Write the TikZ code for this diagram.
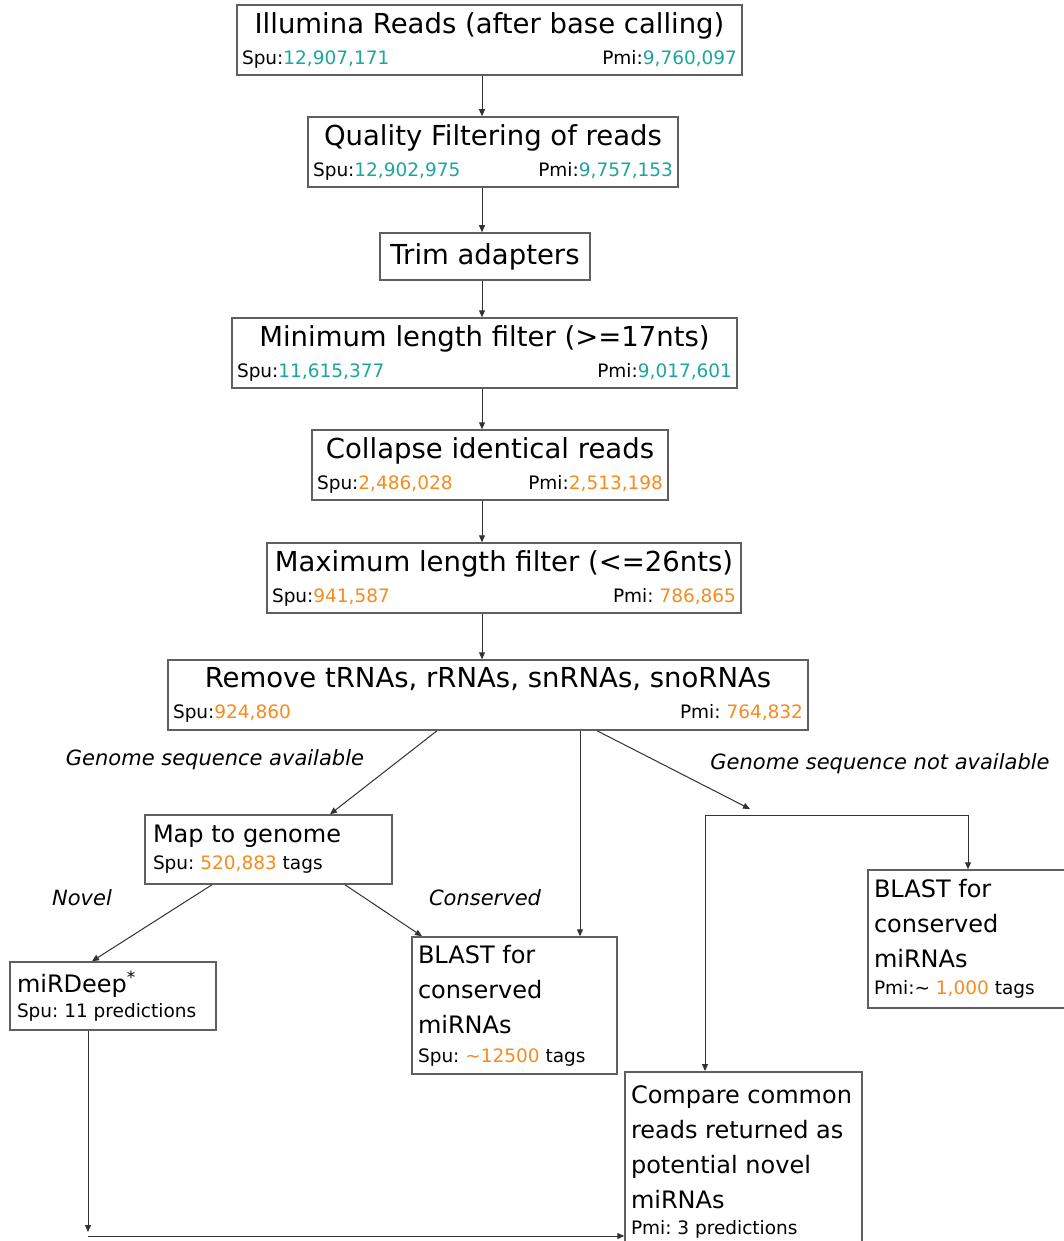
\documentclass[tikz,border=0pt]{standalone}
\usepackage{fontspec}
\setmainfont{DejaVu Sans}
\usetikzlibrary{arrows.meta}
\frenchspacing
\definecolor{tealnum}{RGB}{28,166,156}
\definecolor{orgnum}{RGB}{245,140,30}
\definecolor{boxgray}{RGB}{95,95,95}
\definecolor{arrgray}{RGB}{50,50,50}
\newcommand{\nsp}{\spaceskip=0pt\xspaceskip=0pt\frenchspacing\relax}
\newcommand{\ttlf}{\fontsize{27.5}{33}\selectfont\nsp\centering}
\newcommand{\smlf}{\fontsize{18.5}{31}\selectfont\nsp\centering}
\newcommand{\mdtf}{\fontsize{24}{35}\selectfont\nsp\raggedright}
\newcommand{\smf}[1]{\fontsize{18.5}{#1}\selectfont\nsp\raggedright}
\newcommand{\tnum}[1]{\textcolor{tealnum}{#1}}
\newcommand{\onum}[1]{\textcolor{orgnum}{#1}}
\begin{document}
\begin{tikzpicture}[x=1pt,y=-1pt,
 pbox/.style={draw=boxgray,line width=1.5pt,fill=white,inner xsep=5pt,inner ysep=3pt,align=center},
 lbox/.style={draw=boxgray,line width=1.5pt,fill=white,inner xsep=7pt,inner ysep=3pt,align=left},
 arr/.style={draw=arrgray,line width=1pt,-{Triangle[length=7pt,width=6pt]}},
 lbl/.style={font=\fontsize{21}{24}\selectfont\itshape,inner sep=0pt}]
\fill[white] (0,0) rectangle (1063,1241);
\useasboundingbox (0,0) rectangle (1063,1241);

% main column
\node[pbox,text width=495pt,minimum height=70pt] (b1) at (489.5,40)
 {{\ttlf Illumina Reads (after base calling)\par}{\smlf Spu:\tnum{12,907,171}\hfill Pmi:\tnum{9,760,097}\par}};
\node[pbox,text width=360pt,minimum height=70pt] (b2) at (493,152)
 {{\ttlf Quality Filtering of reads\par}{\smlf Spu:\tnum{12,902,975}\hfill Pmi:\tnum{9,757,153}\par}};
\node[pbox,text width=200pt,minimum height=47pt] (b3) at (485,256.5)
 {{\ttlf Trim adapters\par}};
\node[pbox,text width=495pt,minimum height=70pt] (b4) at (484.5,353)
 {{\ttlf Minimum length filter (>=17nts)\par}{\smlf Spu:\tnum{11,615,377}\hfill Pmi:\tnum{9,017,601}\par}};
\node[pbox,text width=346pt,minimum height=70pt] (b5) at (490,465)
 {{\ttlf Collapse identical reads\par}{\smlf Spu:\onum{2,486,028}\hfill Pmi:\onum{2,513,198}\par}};
\node[pbox,text width=464pt,minimum height=70pt] (b6) at (504,578)
 {{\ttlf Maximum length filter (<=26nts)\par}{\smlf Spu:\onum{941,587}\hfill Pmi: \onum{786,865}\par}};
\node[pbox,text width=630pt,minimum height=70pt] (b7) at (488,695)
 {{\ttlf Remove tRNAs, rRNAs, snRNAs, snoRNAs\par}{\smlf Spu:\onum{924,860}\hfill Pmi: \onum{764,832}\par}};

% lower boxes
\node[lbox,inner xsep=8pt,text width=231pt,minimum height=69pt] (map) at (268.5,849.5)
 {{\mdtf Map to genome\par}{\smf{27}Spu: \onum{520,883} tags\par}};
\node[lbox,text width=192pt,minimum height=68pt] (mird) at (113,996)
 {{\mdtf miRDeep\textsuperscript{*}\par}{\smf{25}Spu: 11 predictions\par}};
\node[lbox,inner xsep=6pt,text width=193pt,minimum height=137pt] (blsp) at (514.5,1005.5)
 {{\mdtf BLAST for\\conserved\\miRNAs\par}{\smf{29}Spu: \onum{\textasciitilde12500} tags\par}};
\node[lbox,inner xsep=6pt,text width=192pt,minimum height=138pt] (blpm) at (970,939)
 {{\mdtf BLAST for\\conserved\\miRNAs\par}{\smf{27}Pmi:\textasciitilde{} \onum{1,000} tags\par}};
\node[lbox,inner xsep=6pt,text width=225pt,minimum height=180pt,anchor=north] (cmp) at (743.5,1071)
 {{\mdtf Compare common\\reads returned as\\potential novel\\miRNAs\par}{\smf{26}Pmi: 3 predictions\par}};

% labels
\node[lbl] (l1) at (215,760) {Genome sequence available};
\node[lbl] (l2) at (880,764) {Genome sequence not available};
\node[lbl] (l3) at (82,898) {Novel};
\node[lbl] (l4) at (485,898) {Conserved};

% helper coordinates
\coordinate (ax) at (482,0);
\coordinate (jtip) at (750,809);
\coordinate (jl) at (705,815);
\coordinate (jr) at (968,815);
\coordinate (crnv) at (88,1232);
\coordinate (crn) at (88,1236);

% main arrows
\draw[arr] (ax |- b1.south) -- (ax |- b2.north);
\draw[arr] (ax |- b2.south) -- (ax |- b3.north);
\draw[arr] (ax |- b3.south) -- (ax |- b4.north);
\draw[arr] (ax |- b4.south) -- (ax |- b5.north);
\draw[arr] (ax |- b5.south) -- (ax |- b6.north);
\draw[arr] (ax |- b6.south) -- (ax |- b7.north);

% branches
\draw[arr] ([xshift=-51pt]b7.south) -- ([xshift=61.5pt]map.north);
\draw[arr] ([xshift=92pt]b7.south) -- ([xshift=65.5pt]blsp.north);
\draw[arr] ([xshift=109pt]b7.south) -- (jtip);
\draw[arr] (jl) -- (jr) -- (jr |- blpm.north);
\draw[arr] (jl) -- (jl |- cmp.north);
\draw[arr] ([xshift=-56.5pt]map.south) -- ([xshift=-21pt]mird.north);
\draw[arr] ([xshift=76.5pt]map.south) -- ([xshift=-92.5pt]blsp.north);
\draw[arr] ([xshift=-25pt]mird.south) -- (crnv);
\draw[arr] (crn) -- (crn -| cmp.west);
\end{tikzpicture}
\end{document}
